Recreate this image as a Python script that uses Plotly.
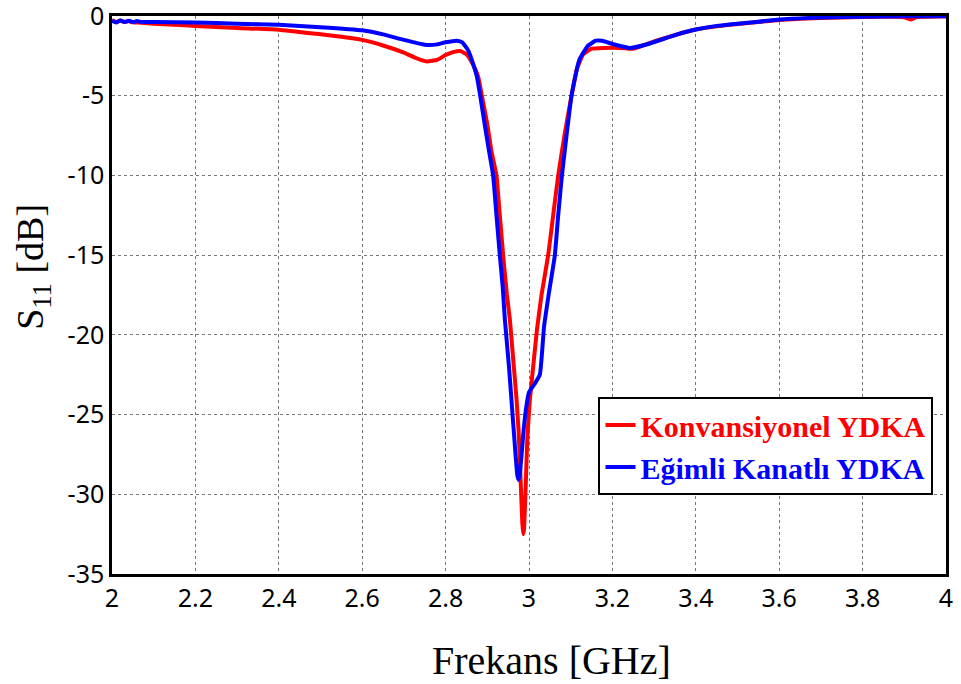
import plotly.graph_objects as go

# Frequency (GHz) and S11 (dB)
freq_conv = [2.00, 2.01, 2.02, 2.03, 2.04, 2.05, 2.07, 2.10, 2.15, 2.20, 2.30, 2.40, 2.50, 2.55, 2.60,
             2.65, 2.70, 2.73, 2.755, 2.78, 2.80, 2.82, 2.835, 2.85, 2.865, 2.878, 2.887, 2.90,
             2.91, 2.922, 2.93, 2.938, 2.947, 2.954, 2.962, 2.97, 2.975, 2.979, 2.982, 2.984,
             2.986, 2.988, 2.990, 2.993, 2.996, 3.002, 3.01, 3.019, 3.03, 3.046, 3.058, 3.07,
             3.085, 3.102, 3.115, 3.13, 3.15, 3.18, 3.22, 3.25, 3.30, 3.35, 3.40, 3.45, 3.50,
             3.55, 3.60, 3.70, 3.80, 3.88, 3.90, 3.915, 3.93, 3.96, 4.00]
s11_conv = [-0.25, -0.38, -0.28, -0.38, -0.32, -0.40, -0.42, -0.48, -0.55, -0.62, -0.75, -0.86, -1.15, -1.30, -1.50,
            -1.85, -2.30, -2.65, -2.85, -2.75, -2.45, -2.25, -2.20, -2.40, -3.00, -3.80, -5.00, -6.80,
            -8.50, -10.0, -12.5, -15.0, -17.5, -19.0, -21.5, -24.0, -26.0, -28.5, -30.5, -31.8,
            -32.5, -32.2, -31.0, -28.8, -26.5, -24.1, -22.0, -19.7, -17.5, -15.0, -12.5, -10.0,
            -7.5, -5.0, -3.3, -2.4, -2.05, -2.0, -2.0, -2.05, -1.6, -1.2, -0.85, -0.65, -0.50,
            -0.38, -0.25, -0.12, -0.06, -0.05, -0.08, -0.22, -0.06, -0.05, -0.02]

freq_tilt = [2.00, 2.01, 2.02, 2.03, 2.04, 2.05, 2.06, 2.07, 2.10, 2.20, 2.30, 2.40, 2.50, 2.60, 2.65,
             2.70, 2.75, 2.78, 2.80, 2.827, 2.84, 2.855, 2.866, 2.875, 2.883, 2.895, 2.905,
             2.914, 2.922, 2.930, 2.937, 2.942, 2.952, 2.962, 2.968, 2.972, 2.975, 2.978, 2.982,
             2.987, 2.993, 3.000, 3.013, 3.026, 3.036, 3.047, 3.062, 3.070, 3.079, 3.090, 3.102,
             3.12, 3.14, 3.16, 3.175, 3.20, 3.24, 3.28, 3.35, 3.40, 3.45, 3.50, 3.55, 3.60,
             3.70, 3.80, 3.90, 4.00]
s11_tilt = [-0.30, -0.40, -0.28, -0.38, -0.30, -0.38, -0.32, -0.38, -0.38, -0.40, -0.48, -0.55, -0.70, -0.90, -1.15,
            -1.50, -1.80, -1.78, -1.65, -1.55, -1.65, -2.20, -3.00, -3.80, -5.00, -7.00, -8.60,
            -10.0, -12.5, -15.0, -17.0, -19.0, -22.0, -25.5, -27.6, -28.8, -29.1, -28.7, -27.6,
            -26.0, -24.6, -23.6, -23.1, -22.5, -19.5, -17.5, -15.0, -12.5, -10.0, -7.5, -5.0,
            -2.8, -1.9, -1.55, -1.55, -1.75, -2.0, -1.8, -1.2, -0.85, -0.62, -0.48, -0.36, -0.22,
            -0.10, -0.04, -0.02, -0.02]

x_ticks = [2, 2.2, 2.4, 2.6, 2.8, 3, 3.2, 3.4, 3.6, 3.8, 4]
x_tick_labels = ["2", "2.2", "2.4", "2.6", "2.8", "3", "3.2", "3.4", "3.6", "3.8", "4"]
y_ticks = [0, -5, -10, -15, -20, -25, -30, -35]
y_tick_labels = ["0", "-5", "-10", "-15", "-20", "-25", "-30", "-35"]

name_conv = "Konvansiyonel YDKA"
name_tilt = "Eğimli Kanatlı YDKA"

fig = go.Figure()
fig.add_trace(go.Scatter(x=freq_conv, y=s11_conv, mode="lines",
                         line=dict(color="#ff0000", width=4, shape="spline", smoothing=0.4),
                         name="<span style='color:#ff0000'><b>" + name_conv + "</b></span>"))
fig.add_trace(go.Scatter(x=freq_tilt, y=s11_tilt, mode="lines",
                         line=dict(color="#0000ff", width=4, shape="spline", smoothing=0.4),
                         name="<span style='color:#0000ff'><b>" + name_tilt + "</b></span>"))

axis_common = dict(showline=True, linecolor="black", linewidth=2.5, mirror=True,
                   showgrid=True, gridcolor="#777777", griddash="dot", gridwidth=1,
                   zeroline=False, ticks="", ticklabeloverflow="allow", automargin=False,
                   tickfont=dict(family="Noto Sans", size=25, color="black"))

fig.update_xaxes(range=[2, 4], tickvals=x_ticks, ticktext=x_tick_labels, **axis_common)
fig.update_yaxes(range=[-35, 0], tickvals=y_ticks, ticktext=y_tick_labels, **axis_common)

fig.update_layout(
    width=961, height=684,
    margin=dict(l=112, r=15, t=16, b=110, autoexpand=False),
    plot_bgcolor="white", paper_bgcolor="white",
    legend=dict(x=0.985, y=0.317, xanchor="right", yanchor="top",
                bgcolor="white", bordercolor="black", borderwidth=2,
                font=dict(family="Liberation Serif", size=30)),
    annotations=[
        dict(text="Frekans [GHz]", xref="paper", yref="paper", x=0.527, y=-0.155,
             xanchor="center", yanchor="middle", showarrow=False,
             font=dict(family="Liberation Serif", size=40, color="black")),
        dict(text="S<sub>11</sub> [dB]", xref="paper", yref="paper", x=-0.095, y=0.55,
             xanchor="center", yanchor="middle", showarrow=False, textangle=-90,
             font=dict(family="Liberation Serif", size=38, color="black")),
    ],
)

fig.write_html("out.html")
